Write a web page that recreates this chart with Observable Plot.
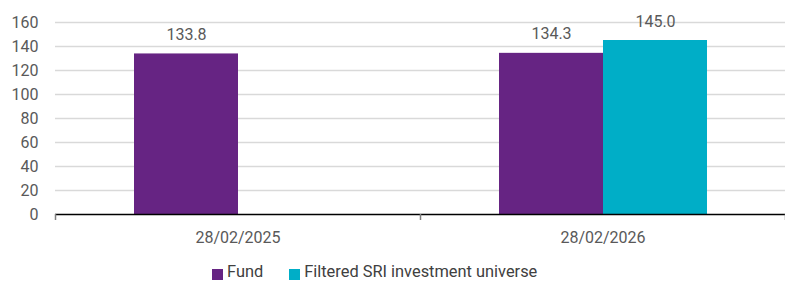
<!DOCTYPE html>
<html>
<head>
<meta charset="utf-8">
<script src="https://cdn.jsdelivr.net/npm/d3@7"></script>
<script src="https://cdn.jsdelivr.net/npm/@observablehq/plot@0.6"></script>
<style>
  html, body { margin: 0; padding: 0; background: #fff; }
  #wrap { position: relative; width: 785px; height: 283px; overflow: hidden; font-family: Roboto, sans-serif; }
  #legend { position: absolute; left: 212px; top: 263px; display: flex; align-items: center; font-size: 16.4px; color: #404040; white-space: nowrap; line-height: 18px; }
  .item { display: flex; align-items: center; margin-right: 26px; }
  .sw { width: 11px; height: 11px; margin-right: 4px; margin-top: 4px; }
</style>
</head>
<body>
<div id="wrap"><div id="chart"></div><div id="legend"></div></div>
<script>
const dates = ["28/02/2025", "28/02/2026"];
const seriesNames = ["Fund", "Filtered SRI investment universe"];
const seriesColors = ["#662483", "#00AEC7"];
const fundValues = [133.8, 134.3];
const sriValues = [null, 145.0];
const yTicks = [0, 20, 40, 60, 80, 100, 120, 140, 160];

const rows = [];
dates.forEach((d, i) => {
  if (fundValues[i] != null) rows.push({date: d, series: seriesNames[0], value: fundValues[i]});
  if (sriValues[i] != null) rows.push({date: d, series: seriesNames[1], value: sriValues[i]});
});

const textColor = "#595959";

const plot = Plot.plot({
  width: 785,
  height: 262,
  marginLeft: 54,
  marginRight: 0,
  marginTop: 22,
  marginBottom: 48,
  style: {fontFamily: "Roboto, sans-serif", fontSize: "16px", color: textColor, background: "#fff", overflow: "visible"},
  fx: {domain: dates, paddingInner: 0, paddingOuter: 0, label: null, axis: "bottom", tickSize: 0, tickPadding: 17},
  x: {domain: seriesNames, paddingInner: 0, paddingOuter: 0.75, axis: null},
  y: {domain: [0, 160], ticks: yTicks, label: null, tickSize: 0, tickPadding: 17},
  color: {domain: seriesNames, range: seriesColors},
  marks: [
    Plot.gridY(yTicks.filter(t => t > 0), {stroke: "#d9d9d9", strokeOpacity: 1, strokeWidth: 1.5}),
    Plot.barY(rows, {fx: "date", x: "series", y: "value", fill: "series", insetLeft: 0, insetRight: 0}),
    Plot.text(rows, {fx: "date", x: "series", y: "value", text: d => d.value.toFixed(1), lineAnchor: "bottom", dy: -14, fill: textColor, fontSize: 16}),
    Plot.ruleY([0], {stroke: "#000", strokeWidth: 1.5})
  ]
});

// category boundary tick marks, positioned with the fx scale
const fx = plot.scale("fx");
const ySc = plot.scale("y");
const svg = d3.select(plot.tagName === "svg" ? plot : plot.querySelector("svg"));
const bounds = dates.map(d => fx.apply(d)).concat([fx.apply(dates[dates.length - 1]) + fx.bandwidth]);
const y0 = ySc.apply(0);
svg.append("g").selectAll("line").data(bounds).join("line")
  .attr("x1", d => d + 0.5).attr("x2", d => d + 0.5)
  .attr("y1", y0).attr("y2", y0 + 6)
  .attr("stroke", "#7f7f7f").attr("stroke-width", 1.5);

document.getElementById("chart").appendChild(plot);

const legend = document.getElementById("legend");
seriesNames.forEach((s, i) => {
  const it = document.createElement("div");
  it.className = "item";
  const sw = document.createElement("div");
  sw.className = "sw";
  sw.style.background = seriesColors[i];
  const t = document.createElement("span");
  t.textContent = s;
  it.appendChild(sw); it.appendChild(t);
  legend.appendChild(it);
});
</script>
</body>
</html>
